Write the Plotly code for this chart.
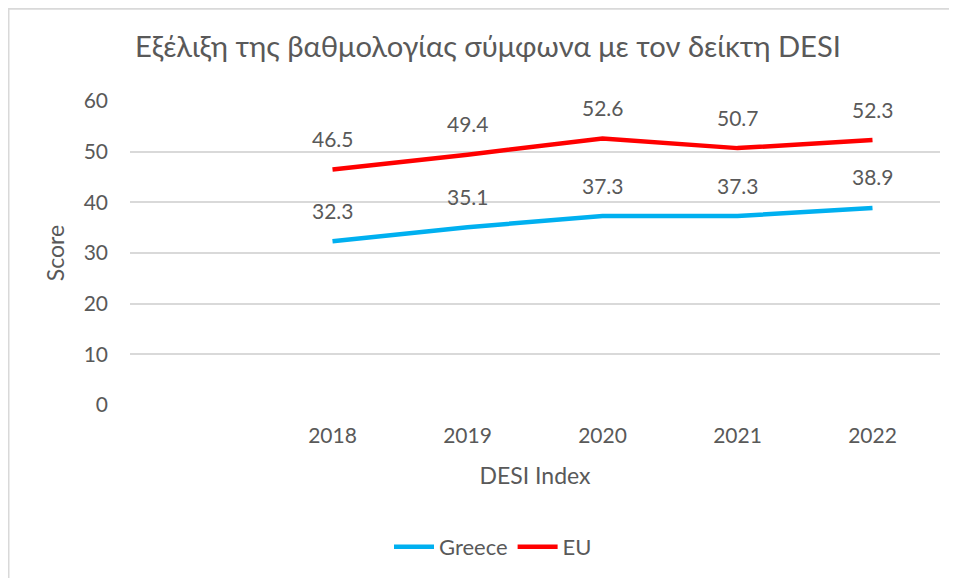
import plotly.graph_objects as go

years = [2018, 2019, 2020, 2021, 2022]
tick_labels = ["2018", "2019", "2020", "2021", "2022"]
greece = [32.3, 35.1, 37.3, 37.3, 38.9]
eu = [46.5, 49.4, 52.6, 50.7, 52.3]
y_ticks = [0, 10, 20, 30, 40, 50, 60]

TXT = "#595959"
FONT = "Lato, 'Noto Sans', sans-serif"

W, H = 949, 570
L, R, T, B = 122, 17, 93, 172
PW = W - L - R
PH = H - T - B

fig = go.Figure()
fig.add_trace(go.Scatter(x=years, y=greece, mode="lines", name="Greece",
                         line=dict(color="#00B0F0", width=4.5)))
fig.add_trace(go.Scatter(x=years, y=eu, mode="lines", name="EU",
                         line=dict(color="#FF0000", width=4.5)))

annotations = []
for series in (greece, eu):
    for xv, yv in zip(years, series):
        annotations.append(dict(x=xv, y=yv, xref="x", yref="y", text=f"{yv:.1f}",
                                showarrow=False, yshift=31,
                                font=dict(family=FONT, size=21, color=TXT)))

fig.update_layout(
    width=W, height=H,
    margin=dict(l=L, r=R, t=T, b=B),
    paper_bgcolor="white", plot_bgcolor="white",
    font=dict(family=FONT, color=TXT, size=21),
    title=dict(text="Εξέλιξη της βαθμολογίας σύμφωνα με τον δείκτη DESI",
               x=127 / W, xanchor="left", y=1 - 39 / H, yanchor="middle",
               font=dict(family=FONT, size=29.2, color=TXT)),
    xaxis=dict(range=[2016.5, 2022.5], tickvals=years, ticktext=tick_labels,
               showgrid=False, zeroline=False, showline=False,
               ticklabelstandoff=16,
               tickfont=dict(family=FONT, size=21, color=TXT),
               title=dict(text="DESI Index", standoff=21,
                          font=dict(family=FONT, size=23, color=TXT))),
    yaxis=dict(range=[0, 60], tickvals=y_ticks, showgrid=True,
               gridcolor="#D9D9D9", gridwidth=1.5, zeroline=False, showline=False,
               ticklabelstandoff=21,
               tickfont=dict(family=FONT, size=21, color=TXT),
               title=dict(text="Score", standoff=12,
                          font=dict(family=FONT, size=23, color=TXT))),
    legend=dict(orientation="h", x=(485 - L) / PW, xanchor="center",
                y=(T + PH - 539) / PH, yanchor="middle",
                font=dict(family=FONT, size=22, color=TXT), itemwidth=40,
                traceorder="normal"),
    annotations=annotations,
    shapes=[dict(type="rect", xref="paper", yref="paper",
                 x0=(0.5 - L) / PW, x1=(W + 30 - L) / PW,
                 y0=(T + PH - H - 30) / PH, y1=(T + PH - 0.5) / PH,
                 line=dict(color="#D9D9D9", width=2), layer="below")],
)

fig.write_html("out.html")
